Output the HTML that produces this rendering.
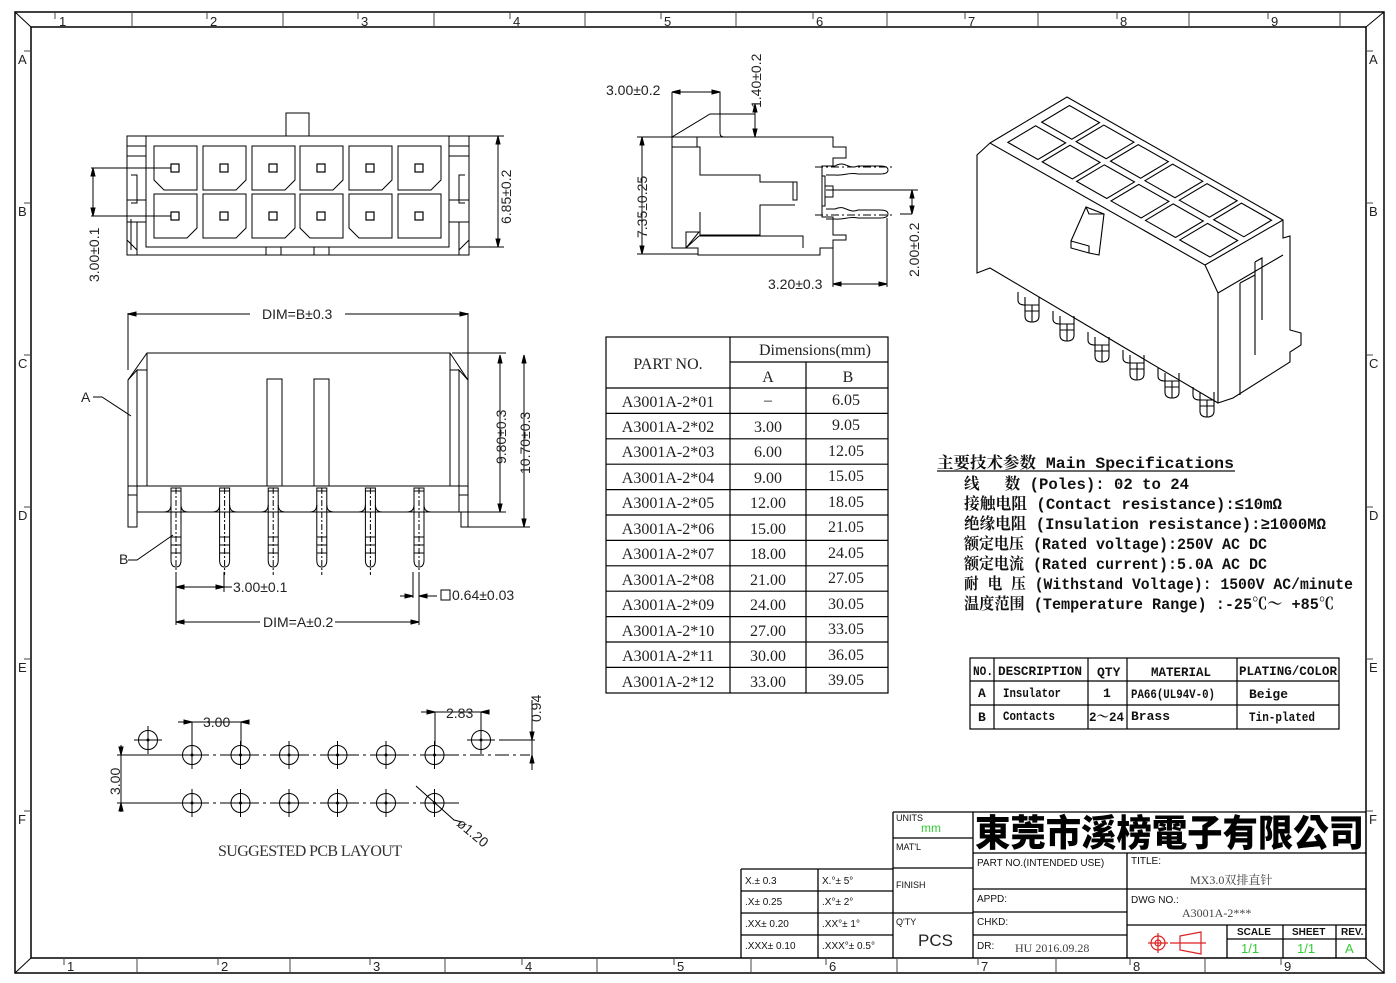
<!DOCTYPE html>
<html><head><meta charset="utf-8"><style>
html,body{margin:0;padding:0;background:#fff;}
svg{display:block;}
.s{font-family:"Liberation Sans","Noto Sans CJK SC",sans-serif;}
.r{font-family:"Liberation Serif","Noto Serif CJK SC",serif;}
.m{font-family:"Liberation Mono","Noto Serif CJK SC","Noto Sans CJK SC",monospace;font-weight:bold;}
</style></head><body>
<svg width="1396" height="983" viewBox="0 0 1396 983" xmlns="http://www.w3.org/2000/svg" fill="none" stroke="#000" stroke-width="1">
<!-- FRAME -->
<rect x="15" y="12" width="1369" height="961" stroke-width="1.5"/>
<rect x="31" y="27" width="1335" height="931" stroke-width="1.5"/>
<line x1="15" y1="12" x2="31" y2="27"/><line x1="1384" y1="12" x2="1366" y2="27"/>
<line x1="15" y1="973" x2="31" y2="958"/><line x1="1384" y1="973" x2="1366" y2="958"/>
<g stroke="#444">
<line x1="132" y1="12" x2="132" y2="27"/><line x1="283" y1="12" x2="283" y2="27"/><line x1="434" y1="12" x2="434" y2="27"/><line x1="585" y1="12" x2="585" y2="27"/><line x1="736" y1="12" x2="736" y2="27"/><line x1="887" y1="12" x2="887" y2="27"/><line x1="1038" y1="12" x2="1038" y2="27"/><line x1="1189" y1="12" x2="1189" y2="27"/><line x1="1340" y1="12" x2="1340" y2="27"/>
<line x1="55" y1="13" x2="55" y2="19"/><line x1="207" y1="13" x2="207" y2="19"/><line x1="358" y1="13" x2="358" y2="19"/><line x1="510" y1="13" x2="510" y2="19"/><line x1="661" y1="13" x2="661" y2="19"/><line x1="813" y1="13" x2="813" y2="19"/><line x1="965" y1="13" x2="965" y2="19"/><line x1="1117" y1="13" x2="1117" y2="19"/><line x1="1268" y1="13" x2="1268" y2="19"/>
<line x1="137" y1="958" x2="137" y2="973"/><line x1="290" y1="958" x2="290" y2="973"/><line x1="445" y1="958" x2="445" y2="973"/><line x1="597" y1="958" x2="597" y2="973"/><line x1="751" y1="958" x2="751" y2="973"/><line x1="897" y1="958" x2="897" y2="973"/><line x1="1056" y1="958" x2="1056" y2="973"/><line x1="1205" y1="958" x2="1205" y2="973"/>
<line x1="64" y1="958" x2="64" y2="965"/><line x1="218" y1="958" x2="218" y2="965"/><line x1="370" y1="958" x2="370" y2="965"/><line x1="522" y1="958" x2="522" y2="965"/><line x1="674" y1="958" x2="674" y2="965"/><line x1="826" y1="958" x2="826" y2="965"/><line x1="978" y1="958" x2="978" y2="965"/><line x1="1130" y1="958" x2="1130" y2="965"/><line x1="1281" y1="958" x2="1281" y2="965"/>
<line x1="24" y1="51" x2="31" y2="51"/><line x1="24" y1="203" x2="31" y2="203"/><line x1="24" y1="355" x2="31" y2="355"/><line x1="24" y1="507" x2="31" y2="507"/><line x1="24" y1="659" x2="31" y2="659"/><line x1="24" y1="811" x2="31" y2="811"/>
<line x1="1366" y1="51" x2="1373" y2="51"/><line x1="1366" y1="203" x2="1373" y2="203"/><line x1="1366" y1="355" x2="1373" y2="355"/><line x1="1366" y1="507" x2="1373" y2="507"/><line x1="1366" y1="659" x2="1373" y2="659"/><line x1="1366" y1="811" x2="1373" y2="811"/>
</g>
<g class="s" fill="#222" stroke="none" font-size="13">
<text x="59" y="26">1</text><text x="210" y="26">2</text><text x="361" y="26">3</text><text x="513" y="26">4</text><text x="664" y="26">5</text><text x="816" y="26">6</text><text x="968" y="26">7</text><text x="1120" y="26">8</text><text x="1271" y="26">9</text>
<text x="67" y="971">1</text><text x="221" y="971">2</text><text x="373" y="971">3</text><text x="525" y="971">4</text><text x="677" y="971">5</text><text x="829" y="971">6</text><text x="981" y="971">7</text><text x="1133" y="971">8</text><text x="1284" y="971">9</text>
<text x="18" y="64">A</text><text x="18" y="216">B</text><text x="18" y="368">C</text><text x="18" y="520">D</text><text x="18" y="672">E</text><text x="18" y="824">F</text>
<text x="1369" y="64">A</text><text x="1369" y="216">B</text><text x="1369" y="368">C</text><text x="1369" y="520">D</text><text x="1369" y="672">E</text><text x="1369" y="824">F</text>
</g>

<!-- TOP VIEW -->
<g>
<rect x="127" y="136" width="342" height="119"/>
<rect x="146" y="136" width="303" height="111"/>
<rect x="286" y="113" width="23" height="23"/>
<rect x="266" y="247" width="15" height="8"/><rect x="314" y="247" width="15" height="8"/>
<line x1="127" y1="146" x2="146" y2="146"/><line x1="127" y1="156" x2="146" y2="156"/>
<path d="M127 200 H146 M127 222 H146 M131 175 H137 V203 H131 M131 219 V250 M137 222 V255 M127 240 L137 250"/>
<line x1="449" y1="146" x2="469" y2="146"/><line x1="449" y1="156" x2="469" y2="156"/>
<path d="M449 200 H469 M449 222 H469 M465 175 H459 V203 H465 M459 222 V255 M469 240 L459 250"/>
<!-- cells -->
<path d="M154 146 h43 v44 h-33 l-10 -10 z"/>
<path d="M203 146 h43 v34 l-10 10 h-33 z"/><path d="M252 146 h43 v34 l-10 10 h-33 z"/><path d="M300 146 h43 v34 l-10 10 h-33 z"/><path d="M349 146 h43 v34 l-10 10 h-33 z"/><path d="M398 146 h43 v34 l-10 10 h-33 z"/>
<path d="M154 194 h43 v34 l-10 10 h-33 z"/><path d="M203 194 h43 v34 l-10 10 h-33 z"/><path d="M252 194 h43 v34 l-10 10 h-33 z"/>
<path d="M300 194 h43 v44 h-33 l-10 -10 z"/><path d="M349 194 h43 v44 h-33 l-10 -10 z"/><rect x="398" y="194" width="43" height="44"/>
<g stroke-width="1.2">
<rect x="171" y="164" width="8" height="8"/><rect x="220" y="164" width="8" height="8"/><rect x="269" y="164" width="8" height="8"/><rect x="317" y="164" width="8" height="8"/><rect x="366" y="164" width="8" height="8"/><rect x="415" y="164" width="8" height="8"/>
<rect x="171" y="212" width="8" height="8"/><rect x="220" y="212" width="8" height="8"/><rect x="269" y="212" width="8" height="8"/><rect x="317" y="212" width="8" height="8"/><rect x="366" y="212" width="8" height="8"/><rect x="415" y="212" width="8" height="8"/>
</g>
<!-- dims -->
<path d="M469 136 H504 M469 247 H504 M498 136 V247 M91 168 H171 M91 216 H171 M93 168 V216"/>
<path d="M498 136 l-2 8 h4 z M498 247 l-2 -8 h4 z M93 168 l-2 8 h4 z M93 216 l-2 -8 h4 z" fill="#000"/>
</g>
<g class="s" fill="#222" stroke="none" font-size="14">
<text transform="translate(511,224) rotate(-90)">6.85±0.2</text>
<text transform="translate(99,282) rotate(-90)">3.00±0.1</text>
</g>

<!-- SIDE VIEW -->
<g>
<path d="M672 137 H833 V147 H846 V158 H833 V166 H822 V217 H833 V235 H846 V240 H833 V248 H820 V255 H698 V248 H672 Z"/>
<path d="M672 147 H697 V137 M697 147 H700 V175 H760 V182 H795 M700 212 V235 H760 V205 H795 M793 182 H797 V200 H793 Z"/>
<path d="M686 248 V232 H699 L686 248 M699 236 H803 V248 M699 236 L686 248"/>
<path d="M822 176 V206 H825 V176 Z M825 186 H833 V197 H825"/>
<path d="M826 166 H835 C845 160 848 170 858 166 H880 Q888 166 888 170 Q888 174 880 174 H858 C848 172 845 176 835 175 H826"/>
<path d="M826 209 H835 C845 204 848 214 858 210 H880 Q888 210 888 214 Q888 218 880 218 H858 C848 216 845 220 835 219 H826"/>
<path d="M815 167 H893 M815 215 H893" stroke-dasharray="8 3 2 3"/>
<path d="M672 137 L710 114 H720 V133 Q720 137 724 137 M720 114 H755 M755 104 V137 M672 92 V137 M672 92 H720 V114"/>
<path d="M637 137 H672 M637 254 H698 M642 137 V254 M826 190 H918 M912 190 V214 M912 214 H900 M833 248 V287 M887 218 V287 M833 284 H887"/>
<path d="M755 104 l-2 8 h4 z M755 137 l-2 -8 h4 z M672 92 l8 -2 v4 z M720 92 l-8 -2 v4 z M642 137 l-2 8 h4 z M642 254 l-2 -8 h4 z M912 190 l-2 8 h4 z M912 214 l-2 -8 h4 z M833 284 l8 -2 v4 z M887 284 l-8 -2 v4 z" fill="#000"/>
</g>
<g class="s" fill="#222" stroke="none" font-size="14">
<text x="606" y="95">3.00±0.2</text>
<text transform="translate(761,108) rotate(-90)">1.40±0.2</text>
<text transform="translate(647,238) rotate(-90)">7.35±0.25</text>
<text transform="translate(919,277) rotate(-90)">2.00±0.2</text>
<text x="768" y="289">3.20±0.3</text>
</g>

<!-- FRONT VIEW -->
<g>
<path d="M147 353 H450 L468 380 V527 H461 V512 H137 V527 H128 V380 Z"/>
<path d="M147 353 V486 H450 V353 M128 380 L137 370 V512 M468 380 L459 370 V512 M137 370 L147 370 M459 370 H450 M128 486 H147 M450 486 H468 M128 495 H137 M459 495 H468"/>
<rect x="267" y="379" width="15" height="107"/><rect x="314" y="379" width="15" height="107"/>
<g id="pin">
<path d="M171 488 H181 V560 Q181 567 176 567 Q171 567 171 560 Z"/>
<path d="M171 537 H181 M171 545 H181 M171 553 H181 M171 491 H181"/>
<path d="M164 512 Q171 512 171 505 M188 512 Q181 512 181 505"/>
<line x1="176" y1="488" x2="176" y2="575" stroke-dasharray="6 2 2 2"/>
</g>
<use href="#pin" x="48.6"/><use href="#pin" x="97.2"/><use href="#pin" x="145.8"/><use href="#pin" x="194.4"/><use href="#pin" x="243"/>
<path d="M128 313 V370 M468 313 V380 M128 314 H250 M345 314 H468"/>
<path d="M452 353 H506 M461 512 H506 M468 527 H530 M500 355 V512 M524 355 V527"/>
<path d="M176 572 V625 M224 572 V592 M176 587 H232 M419 572 V625 M413 572 V598 M400 596 H413 M419 596 H437 M176 622 H260 M335 622 H419"/>
<path d="M128 314 l8 -2 v4 z M468 314 l-8 -2 v4 z M500 355 l-2 8 h4 z M500 512 l-2 -8 h4 z M524 355 l-2 8 h4 z M524 527 l-2 -8 h4 z M176 587 l8 -2 v4 z M224 587 l-8 -2 v4 z M413 596 l-8 -2 v4 z M419 596 l8 -2 v4 z M176 622 l8 -2 v4 z M419 622 l-8 -2 v4 z" fill="#000"/>
<path d="M93 397 H102 L131 416 M128 560 H137 L173 535"/>
<rect x="441" y="590" width="9" height="10"/>
</g>
<g class="s" fill="#222" stroke="none" font-size="14">
<text x="262" y="319">DIM=B±0.3</text>
<text transform="translate(506,464) rotate(-90)">9.80±0.3</text>
<text transform="translate(530,474) rotate(-90)">10.70±0.3</text>
<text x="233" y="592">3.00±0.1</text>
<text x="452" y="600">0.64±0.03</text>
<text x="263" y="627">DIM=A±0.2</text>
<text x="81" y="402">A</text>
<text x="119" y="564">B</text>
</g>

<!-- PCB LAYOUT -->
<g>
<path d="M117 755 H170"/>
<path d="M170 755 H530" stroke-dasharray="14 4 3 4" />
<path d="M117 803 H170 M170 803 H460" stroke-dasharray="14 4 3 4"/>
<path d="M117 803 H170"/>
<g id="h"><circle cx="192" cy="755" r="9.5"/><path d="M192 741 V769 M178 755 H206"/><circle cx="192" cy="755" r="1" fill="#000"/></g>
<use href="#h" x="48.5"/><use href="#h" x="97"/><use href="#h" x="145.5"/><use href="#h" x="194"/><use href="#h" x="242.5"/>
<use href="#h" y="48"/><use href="#h" x="48.5" y="48"/><use href="#h" x="97" y="48"/><use href="#h" x="145.5" y="48"/><use href="#h" x="194" y="48"/><use href="#h" x="242.5" y="48"/>
<use href="#h" x="-44" y="-15"/><use href="#h" x="289" y="-15"/>
<path d="M192 722 V745 M241 722 V745 M178 722 H249 M435 712 V745 M481 712 V732 M421 712 H488 M499 740 H535 M532 700 V770 M121 745 V812 M416 786 L454 820 L462 822"/>
<path d="M192 722 l-8 -2 v4 z M241 722 l8 -2 v4 z M435 712 l-8 -2 v4 z M481 712 l8 -2 v4 z M532 740 l-2 -8 h4 z M532 755 l-2 8 h4 z M121 755 l-2 -8 h4 z M121 803 l-2 8 h4 z" fill="#000"/>
</g>
<g class="s" fill="#222" stroke="none" font-size="14">
<text x="203" y="727">3.00</text>
<text x="446" y="718">2.83</text>
<text transform="translate(541,722) rotate(-90)">0.94</text>
<text transform="translate(120,795) rotate(-90)">3.00</text>
<text transform="translate(456,825) rotate(40)">ø1.20</text>
</g>
<text class="r" x="218" y="856" font-size="16" fill="#333" stroke="none" textLength="184">SUGGESTED PCB LAYOUT</text>

<!-- DIMENSION TABLE -->
<g stroke-width="1.2">
<rect x="606" y="337" width="282" height="356"/>
<path d="M730 337 V693 M806 362 V693 M730 362 H888 M606 388 H888"/>
<path d="M606 413.4 H888 M606 438.8 H888 M606 464.2 H888 M606 489.6 H888 M606 515 H888 M606 540.4 H888 M606 565.8 H888 M606 591.2 H888 M606 616.6 H888 M606 642 H888 M606 667.4 H888"/>
</g>
<g class="r" fill="#222" stroke="none" font-size="16">
<text x="668" y="369" text-anchor="middle">PART NO.</text>
<text x="815" y="355" text-anchor="middle">Dimensions(mm)</text>
<text x="768" y="382" text-anchor="middle">A</text><text x="848" y="382" text-anchor="middle">B</text>
<g text-anchor="middle">
<text x="668" y="407">A3001A-2*01</text><text x="768" y="405">–</text><text x="846" y="405">6.05</text>
<text x="668" y="432">A3001A-2*02</text><text x="768" y="432">3.00</text><text x="846" y="430">9.05</text>
<text x="668" y="457">A3001A-2*03</text><text x="768" y="457">6.00</text><text x="846" y="456">12.05</text>
<text x="668" y="483">A3001A-2*04</text><text x="768" y="483">9.00</text><text x="846" y="481">15.05</text>
<text x="668" y="508">A3001A-2*05</text><text x="768" y="508">12.00</text><text x="846" y="507">18.05</text>
<text x="668" y="534">A3001A-2*06</text><text x="768" y="534">15.00</text><text x="846" y="532">21.05</text>
<text x="668" y="559">A3001A-2*07</text><text x="768" y="559">18.00</text><text x="846" y="558">24.05</text>
<text x="668" y="585">A3001A-2*08</text><text x="768" y="585">21.00</text><text x="846" y="583">27.05</text>
<text x="668" y="610">A3001A-2*09</text><text x="768" y="610">24.00</text><text x="846" y="609">30.05</text>
<text x="668" y="636">A3001A-2*10</text><text x="768" y="636">27.00</text><text x="846" y="634">33.05</text>
<text x="668" y="661">A3001A-2*11</text><text x="768" y="661">30.00</text><text x="846" y="660">36.05</text>
<text x="668" y="687">A3001A-2*12</text><text x="768" y="687">33.00</text><text x="846" y="685">39.05</text>
</g></g>

<!-- 3D VIEW -->
<g stroke-width="1.1">
<path d="M990 143 L1067 97 L1283 220 L1283 238 L1290 236 L1290 330 L1301 333 L1301 345 L1290 352 L1290 362 L1233 398 L1218 403 L1218 293 L1205 265 L990 143 L977 155 L977 273 L990 268 L1218 403"/>
<path d="M1205 265 L1283 220 M1218 293 L1283 255 M1240 283 V395 M1255 262 L1262 258 V320 M1255 262 V355 M1240 283 L1255 275"/>
<g transform="matrix(215,122,77,-46,990,143)">
<rect x="0.04" y="0.12" width="0.14" height="0.36" vector-effect="non-scaling-stroke"/>
<rect x="0.20" y="0.12" width="0.14" height="0.36" vector-effect="non-scaling-stroke"/>
<rect x="0.36" y="0.12" width="0.14" height="0.36" vector-effect="non-scaling-stroke"/>
<rect x="0.52" y="0.12" width="0.14" height="0.36" vector-effect="non-scaling-stroke"/>
<rect x="0.68" y="0.12" width="0.14" height="0.36" vector-effect="non-scaling-stroke"/>
<rect x="0.84" y="0.12" width="0.14" height="0.36" vector-effect="non-scaling-stroke"/>
<rect x="0.04" y="0.56" width="0.14" height="0.36" vector-effect="non-scaling-stroke"/>
<rect x="0.20" y="0.56" width="0.14" height="0.36" vector-effect="non-scaling-stroke"/>
<rect x="0.36" y="0.56" width="0.14" height="0.36" vector-effect="non-scaling-stroke"/>
<rect x="0.52" y="0.56" width="0.14" height="0.36" vector-effect="non-scaling-stroke"/>
<rect x="0.68" y="0.56" width="0.14" height="0.36" vector-effect="non-scaling-stroke"/>
<rect x="0.84" y="0.56" width="0.14" height="0.36" vector-effect="non-scaling-stroke"/>
</g>
<path d="M1071 241 L1086 207 L1104 214 L1099 255 L1089 253 L1071 248 Z M1086 207 L1089 214 L1104 214 M1071 241 L1089 246 L1089 253"/>
<g id="p3"><path d="M1025 297 V316 Q1025 322 1032 322 Q1039 322 1039 316 V297 M1025 305 H1039 M1025 311 H1039 M1032 305 V322"/><path d="M1018 292 V300 Q1018 305 1025 305"/></g>
<use href="#p3" x="35" y="19"/><use href="#p3" x="70" y="40"/><use href="#p3" x="105" y="58"/><use href="#p3" x="140" y="76"/><use href="#p3" x="175" y="95"/>
</g>

<!-- SPECS -->
<g class="m" fill="#111" stroke="none" font-size="16">
<text x="937" y="468" textLength="297" lengthAdjust="spacingAndGlyphs">主要技术参数 Main Specifications</text>
<line x1="937" y1="471" x2="1235" y2="471" stroke="#111" stroke-width="1.3"/>
<text x="964" y="489" textLength="225" lengthAdjust="spacingAndGlyphs">线　 数 (Poles): 02 to 24</text>
<text x="964" y="509" textLength="318" lengthAdjust="spacingAndGlyphs">接触电阻 (Contact resistance):≤10mΩ</text>
<text x="964" y="529" textLength="362" lengthAdjust="spacingAndGlyphs">绝缘电阻 (Insulation resistance):≥1000MΩ</text>
<text x="964" y="549" textLength="303" lengthAdjust="spacingAndGlyphs">额定电压 (Rated voltage):250V AC DC</text>
<text x="964" y="569" textLength="303" lengthAdjust="spacingAndGlyphs">额定电流 (Rated current):5.0A AC DC</text>
<text x="964" y="589" textLength="389" lengthAdjust="spacingAndGlyphs">耐 电 压 (Withstand Voltage): 1500V AC/minute</text>
<text x="964" y="609" textLength="370" lengthAdjust="spacingAndGlyphs">温度范围 (Temperature Range) :-25℃～ +85℃</text>
</g>

<!-- BOM -->
<g stroke-width="1.2">
<rect x="970" y="658" width="369" height="71"/>
<path d="M970 681 H1339 M970 705 H1339 M994 658 V729 M1088 658 V729 M1127 658 V729 M1237 658 V729"/>
</g>
<g class="m" fill="#111" stroke="none" font-size="13">
<text x="973" y="675" textLength="20" lengthAdjust="spacingAndGlyphs">NO.</text>
<text x="998" y="675" textLength="84" lengthAdjust="spacingAndGlyphs">DESCRIPTION</text>
<text x="1097" y="676">QTY</text>
<text x="1151" y="676" textLength="60" lengthAdjust="spacingAndGlyphs">MATERIAL</text>
<text x="1239" y="675" textLength="98" lengthAdjust="spacingAndGlyphs">PLATING/COLOR</text>
<text x="978" y="697">A</text><text x="1003" y="697" textLength="58" lengthAdjust="spacingAndGlyphs">Insulator</text><text x="1103" y="697">1</text><text x="1131" y="698" textLength="84" lengthAdjust="spacingAndGlyphs">PA66(UL94V-0)</text><text x="1249" y="698">Beige</text>
<text x="978" y="721">B</text><text x="1003" y="720" textLength="52" lengthAdjust="spacingAndGlyphs">Contacts</text><text x="1089" y="721" textLength="35" lengthAdjust="spacingAndGlyphs">2～24</text><text x="1131" y="720">Brass</text><text x="1249" y="721" textLength="66" lengthAdjust="spacingAndGlyphs">Tin-plated</text>
</g>

<!-- TITLE BLOCK -->
<g stroke-width="1.3">
<path d="M893 812 H1366 M893 812 V958 M973 812 V958 M893 838 H973 M893 868 H973 M893 913 H973"/>
<path d="M741 869 H893 M741 869 V958 M818 869 V958 M741 891 H893 M741 913 H893 M741 935 H893"/>
<path d="M973 853 H1366 M1127 853 V958 M973 889 H1366 M973 912 H1127 M973 935 H1127 M1127 925 H1366 M1227 925 V958 M1283 925 V958 M1336 925 V958 M1227 939 H1366"/>
</g>
<text x="975" y="846" font-family="'Noto Sans CJK TC','Noto Sans CJK SC',sans-serif" font-weight="900" font-size="37" fill="#000" stroke="none" textLength="389" lengthAdjust="spacingAndGlyphs">東莞市溪榜電子有限公司</text>
<g class="s" fill="#111" stroke="none" font-size="10">
<text x="896" y="821" font-size="9">UNITS</text>
<text x="921" y="832" fill="#3c3" font-size="12">mm</text>
<text x="896" y="850" font-size="9">MAT'L</text>
<text x="896" y="888" font-size="9">FINISH</text>
<text x="896" y="925" font-size="9">Q'TY</text>
<text x="918" y="946" font-size="17" fill="#222">PCS</text>
<text x="745" y="884">X.± 0.3</text><text x="822" y="884">X.°± 5°</text>
<text x="745" y="905">.X± 0.25</text><text x="822" y="905">.X°± 2°</text>
<text x="745" y="927">.XX± 0.20</text><text x="822" y="927">.XX°± 1°</text>
<text x="745" y="949">.XXX± 0.10</text><text x="822" y="949">.XXX°± 0.5°</text>
<text x="977" y="866">PART NO.(INTENDED USE)</text>
<text x="977" y="902">APPD:</text>
<text x="977" y="925">CHKD:</text>
<text x="977" y="949">DR:</text>
<text x="1131" y="864">TITLE:</text>
<text x="1131" y="903">DWG NO.:</text>
<text x="1237" y="935" font-weight="bold">SCALE</text>
<text x="1292" y="935" font-weight="bold">SHEET</text>
<text x="1341" y="935" font-weight="bold">REV.</text>
<text x="1241" y="953" fill="#3c3" font-size="13">1/1</text>
<text x="1297" y="953" fill="#3c3" font-size="13">1/1</text>
<text x="1345" y="953" fill="#3c3" font-size="13">A</text>
</g>
<g class="r" fill="#444" stroke="none" font-size="12">
<text x="1190" y="884">MX3.0双排直针</text>
<text x="1182" y="917">A3001A-2***</text>
<text x="1015" y="952">HU 2016.09.28</text>
</g>
<g stroke="#d22" stroke-width="1.2">
<circle cx="1158" cy="943" r="7"/><circle cx="1158" cy="943" r="3"/>
<path d="M1148 943 H1168 M1158 933 V953 M1170 943 H1176 M1180 936 L1201 932 V954 L1180 950 Z M1176 943 H1206"/>
</g>
</svg>
</body></html>
